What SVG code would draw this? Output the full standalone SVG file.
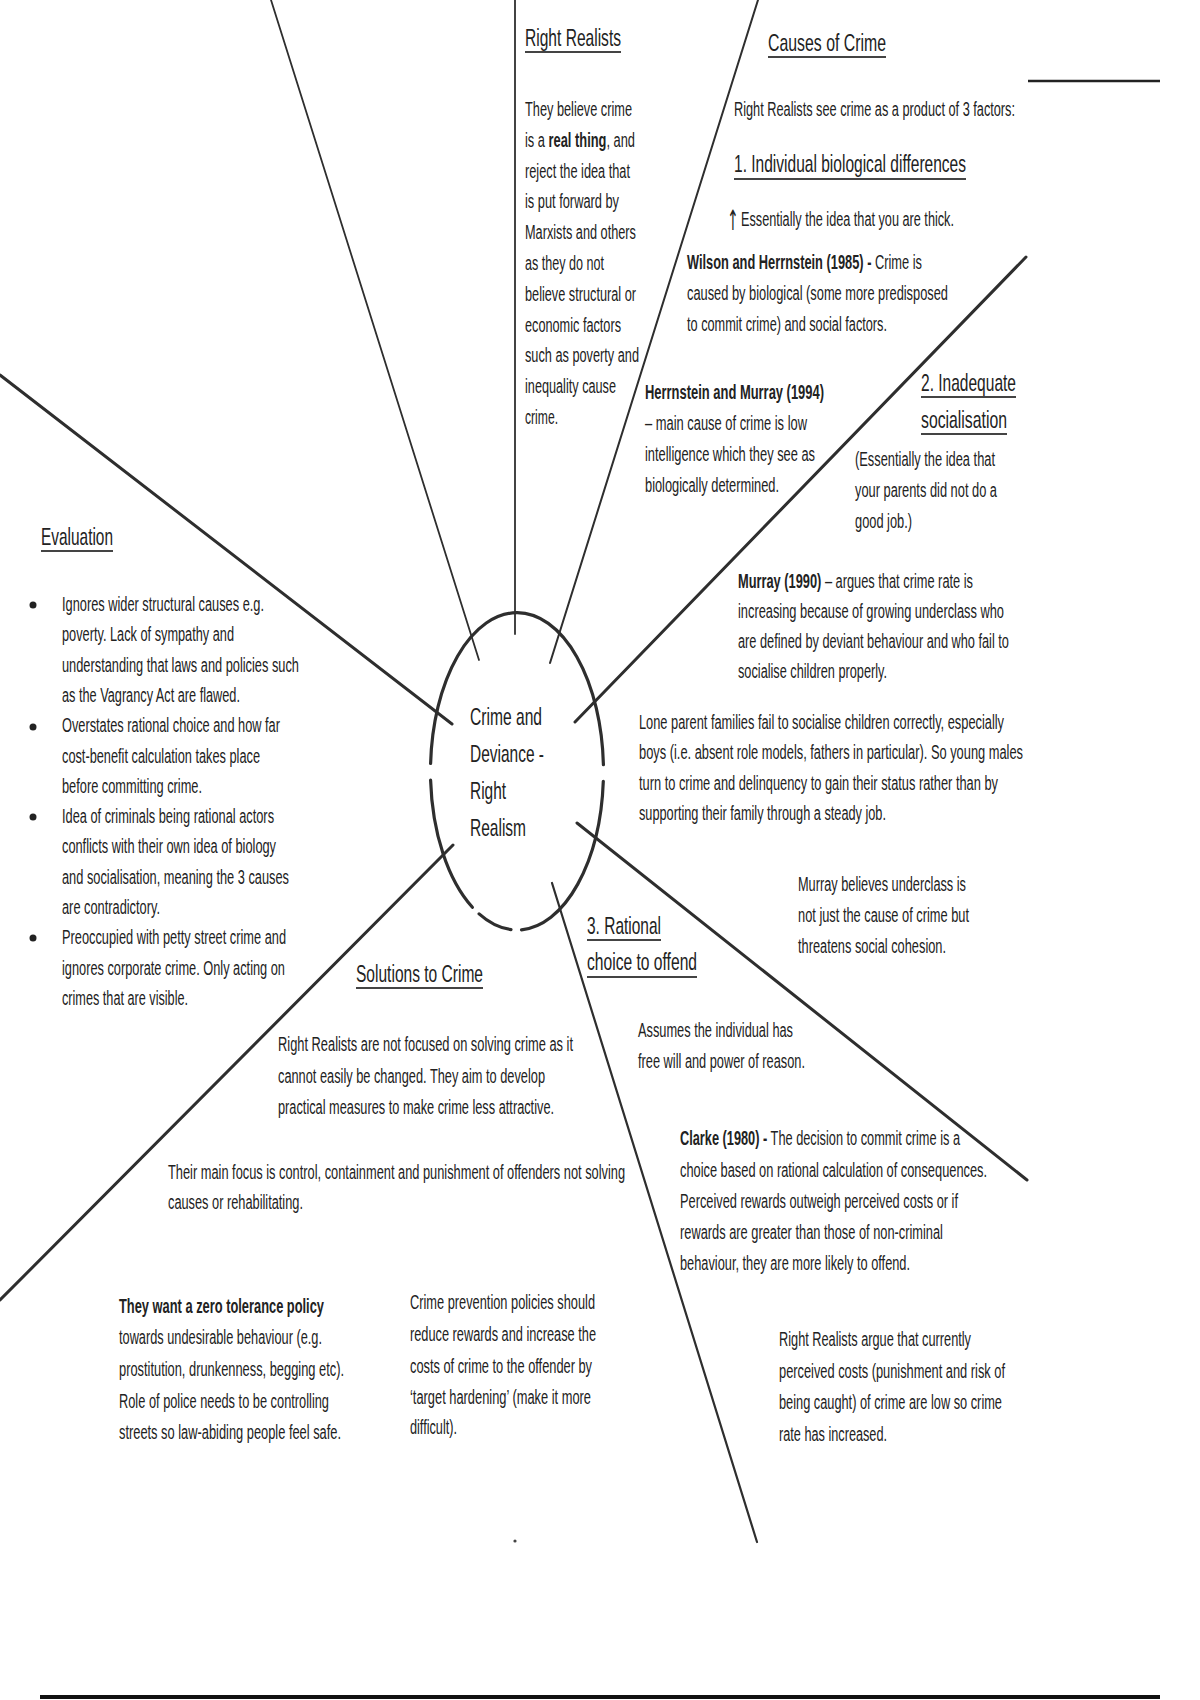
<svg xmlns="http://www.w3.org/2000/svg" width="1200" height="1700" viewBox="0 0 1200 1700">
<style>
text{font-family:"Liberation Sans",Arial,sans-serif;font-size:20px;fill:#222}
.h{font-size:24px}
.b{font-weight:bold}
.arrow{font-family:"DejaVu Sans",sans-serif;font-size:28px}
.ul{stroke:#444;stroke-width:2}
.sp{stroke:#2e2e2e;fill:none;stroke-linecap:round}
.ring{stroke:#2e2e2e;stroke-width:3.2;fill:none;stroke-linecap:round}
</style>
<rect width="1200" height="1700" fill="#fff"/>

<g id="connectors">
<line class="sp" x1="271" y1="0" x2="479" y2="660" stroke-width="1.8"/>
<line class="sp" x1="515" y1="0" x2="515" y2="634" stroke-width="1.8"/>
<line class="sp" x1="758" y1="0" x2="550" y2="663" stroke-width="2"/>
<line class="sp" x1="1026" y1="257" x2="575" y2="722" stroke-width="3"/>
<line class="sp" x1="577" y1="823" x2="1027" y2="1180" stroke-width="3"/>
<line class="sp" x1="552" y1="883" x2="757" y2="1542" stroke-width="2.2"/>
<line class="sp" x1="453" y1="845" x2="0" y2="1300" stroke-width="3"/>
<line class="sp" x1="0" y1="375" x2="452" y2="724" stroke-width="3"/>
</g>

<g id="decor">
<line x1="1028" y1="81" x2="1160" y2="81" stroke="#222" stroke-width="2.5"/>
<line x1="40" y1="1697" x2="1160" y2="1697" stroke="#111" stroke-width="4"/>
<circle cx="515" cy="1541" r="1.6" fill="#444"/>
</g>

<g id="center">
<path class="ring" d="M603.4,764.6 A86.5,159 0 0 0 430.6,763.5"/>
<path class="ring" d="M430.6,780.2 A86.5,159 0 0 0 472.4,907.3"/>
<path class="ring" d="M479.1,913.9 A86.5,159 0 0 0 511,929.6"/>
<path class="ring" d="M521.5,929.8 A86.5,159 0 0 0 603.3,781.3"/>
<text class="h" transform="matrix(.64 0 0 1 470 725)" textLength="112.5" lengthAdjust="spacingAndGlyphs">Crime and</text>
<text class="h" transform="matrix(.64 0 0 1 470 762)" textLength="115.6" lengthAdjust="spacingAndGlyphs">Deviance -</text>
<text class="h" transform="matrix(.64 0 0 1 470 799)" textLength="56.3" lengthAdjust="spacingAndGlyphs">Right</text>
<text class="h" transform="matrix(.64 0 0 1 470 836)" textLength="87.5" lengthAdjust="spacingAndGlyphs">Realism</text>
</g>

<g id="right-realists">
<text class="h" transform="matrix(.64 0 0 1 525 46)" textLength="150" lengthAdjust="spacingAndGlyphs">Right Realists</text>
<line class="ul" x1="525" y1="52" x2="621" y2="52"/>
<text transform="matrix(.64 0 0 1 525 116)" textLength="167.2" lengthAdjust="spacingAndGlyphs">They believe crime</text>
<text transform="matrix(.64 0 0 1 525 146.8)" textLength="171.9" lengthAdjust="spacingAndGlyphs">is a <tspan class="b">real thing</tspan>, and</text>
<text transform="matrix(.64 0 0 1 525 177.6)" textLength="164.1" lengthAdjust="spacingAndGlyphs">reject the idea that</text>
<text transform="matrix(.64 0 0 1 525 208.4)" textLength="146.9" lengthAdjust="spacingAndGlyphs">is put forward by</text>
<text transform="matrix(.64 0 0 1 525 239.2)" textLength="173.4" lengthAdjust="spacingAndGlyphs">Marxists and others</text>
<text transform="matrix(.64 0 0 1 525 270)" textLength="123.4" lengthAdjust="spacingAndGlyphs">as they do not</text>
<text transform="matrix(.64 0 0 1 525 300.8)" textLength="173.4" lengthAdjust="spacingAndGlyphs">believe structural or</text>
<text transform="matrix(.64 0 0 1 525 331.6)" textLength="150" lengthAdjust="spacingAndGlyphs">economic factors</text>
<text transform="matrix(.64 0 0 1 525 362.4)" textLength="178.1" lengthAdjust="spacingAndGlyphs">such as poverty and</text>
<text transform="matrix(.64 0 0 1 525 393.2)" textLength="142.2" lengthAdjust="spacingAndGlyphs">inequality cause</text>
<text transform="matrix(.64 0 0 1 525 424)" textLength="51.6" lengthAdjust="spacingAndGlyphs">crime.</text>
</g>

<g id="causes-of-crime">
<text class="h" transform="matrix(.64 0 0 1 768 51)" textLength="184.4" lengthAdjust="spacingAndGlyphs">Causes of Crime</text>
<line class="ul" x1="768" y1="57" x2="886" y2="57"/>
<text transform="matrix(.64 0 0 1 734 116)" textLength="439.1" lengthAdjust="spacingAndGlyphs">Right Realists see crime as a product of 3 factors:</text>
</g>

<g id="biological">
<text class="h" transform="matrix(.64 0 0 1 734 172)" textLength="362.5" lengthAdjust="spacingAndGlyphs">1. Individual biological differences</text>
<line class="ul" x1="734" y1="179" x2="966" y2="179"/>
<text class="arrow" transform="matrix(.5 0 0 1 727 230)">↑</text>
<text transform="matrix(.64 0 0 1 741 226)" textLength="332.8" lengthAdjust="spacingAndGlyphs">Essentially the idea that you are thick.</text>
</g>

<g id="wilson-herrnstein">
<text transform="matrix(.64 0 0 1 687 269)" textLength="367.2" lengthAdjust="spacingAndGlyphs"><tspan class="b">Wilson and Herrnstein</tspan> <tspan class="b">(1985)</tspan> <tspan class="b">-</tspan> Crime is</text>
<text transform="matrix(.64 0 0 1 687 300)" textLength="407.8" lengthAdjust="spacingAndGlyphs">caused by biological (some more predisposed</text>
<text transform="matrix(.64 0 0 1 687 331)" textLength="312.5" lengthAdjust="spacingAndGlyphs">to commit crime) and social factors.</text>
</g>

<g id="herrnstein-murray">
<text class="b" transform="matrix(.64 0 0 1 645 399)" textLength="279.7" lengthAdjust="spacingAndGlyphs">Herrnstein and Murray (1994)</text>
<text transform="matrix(.64 0 0 1 645 430)" textLength="253.1" lengthAdjust="spacingAndGlyphs">– main cause of crime is low</text>
<text transform="matrix(.64 0 0 1 645 461)" textLength="265.6" lengthAdjust="spacingAndGlyphs">intelligence which they see as</text>
<text transform="matrix(.64 0 0 1 645 492)" textLength="209.4" lengthAdjust="spacingAndGlyphs">biologically determined.</text>
</g>

<g id="socialisation">
<text class="h" transform="matrix(.64 0 0 1 921 391)" textLength="148.4" lengthAdjust="spacingAndGlyphs">2. Inadequate</text>
<line class="ul" x1="921" y1="397" x2="1016" y2="397"/>
<text class="h" transform="matrix(.64 0 0 1 921 428)" textLength="134.4" lengthAdjust="spacingAndGlyphs">socialisation</text>
<line class="ul" x1="921" y1="434" x2="1007" y2="434"/>
<text transform="matrix(.64 0 0 1 855 466)" textLength="218.8" lengthAdjust="spacingAndGlyphs">(Essentially the idea that</text>
<text transform="matrix(.64 0 0 1 855 497)" textLength="221.9" lengthAdjust="spacingAndGlyphs">your parents did not do a</text>
<text transform="matrix(.64 0 0 1 855 528)" textLength="89.1" lengthAdjust="spacingAndGlyphs">good job.)</text>
</g>

<g id="murray-1990">
<text transform="matrix(.64 0 0 1 738 588)" textLength="367.2" lengthAdjust="spacingAndGlyphs"><tspan class="b">Murray</tspan> <tspan class="b">(1990)</tspan> – argues that crime rate is</text>
<text transform="matrix(.64 0 0 1 738 618)" textLength="415.6" lengthAdjust="spacingAndGlyphs">increasing because of growing underclass who</text>
<text transform="matrix(.64 0 0 1 738 648)" textLength="423.4" lengthAdjust="spacingAndGlyphs">are defined by deviant behaviour and who fail to</text>
<text transform="matrix(.64 0 0 1 738 678)" textLength="232.8" lengthAdjust="spacingAndGlyphs">socialise children properly.</text>
</g>

<g id="lone-parent">
<text transform="matrix(.64 0 0 1 639 729)" textLength="570.3" lengthAdjust="spacingAndGlyphs">Lone parent families fail to socialise children correctly, especially</text>
<text transform="matrix(.64 0 0 1 639 759)" textLength="600" lengthAdjust="spacingAndGlyphs">boys (i.e. absent role models, fathers in particular). So young males</text>
<text transform="matrix(.64 0 0 1 639 790)" textLength="560.9" lengthAdjust="spacingAndGlyphs">turn to crime and delinquency to gain their status rather than by</text>
<text transform="matrix(.64 0 0 1 639 820)" textLength="385.9" lengthAdjust="spacingAndGlyphs">supporting their family through a steady job.</text>
</g>

<g id="murray-underclass">
<text transform="matrix(.64 0 0 1 798 891)" textLength="262.5" lengthAdjust="spacingAndGlyphs">Murray believes underclass is</text>
<text transform="matrix(.64 0 0 1 798 922)" textLength="267.2" lengthAdjust="spacingAndGlyphs">not just the cause of crime but</text>
<text transform="matrix(.64 0 0 1 798 953)" textLength="231.3" lengthAdjust="spacingAndGlyphs">threatens social cohesion.</text>
</g>

<g id="rational-choice">
<text class="h" transform="matrix(.64 0 0 1 587 934)" textLength="115.6" lengthAdjust="spacingAndGlyphs">3. Rational</text>
<line class="ul" x1="587" y1="940" x2="661" y2="940"/>
<text class="h" transform="matrix(.64 0 0 1 587 970)" textLength="171.9" lengthAdjust="spacingAndGlyphs">choice to offend</text>
<line class="ul" x1="587" y1="977" x2="697" y2="977"/>
<text transform="matrix(.64 0 0 1 638 1037)" textLength="242.2" lengthAdjust="spacingAndGlyphs">Assumes the individual has</text>
<text transform="matrix(.64 0 0 1 638 1068)" textLength="260.9" lengthAdjust="spacingAndGlyphs">free will and power of reason.</text>
</g>

<g id="clarke">
<text transform="matrix(.64 0 0 1 680 1145)" textLength="437.5" lengthAdjust="spacingAndGlyphs"><tspan class="b">Clarke</tspan> <tspan class="b">(1980)</tspan> <tspan class="b">-</tspan> The decision to commit crime is a</text>
<text transform="matrix(.64 0 0 1 680 1177)" textLength="479.7" lengthAdjust="spacingAndGlyphs">choice based on rational calculation of consequences.</text>
<text transform="matrix(.64 0 0 1 680 1208)" textLength="434.4" lengthAdjust="spacingAndGlyphs">Perceived rewards outweigh perceived costs or if</text>
<text transform="matrix(.64 0 0 1 680 1239)" textLength="410.9" lengthAdjust="spacingAndGlyphs">rewards are greater than those of non-criminal</text>
<text transform="matrix(.64 0 0 1 680 1270)" textLength="359.4" lengthAdjust="spacingAndGlyphs">behaviour, they are more likely to offend.</text>
</g>

<g id="perceived-costs">
<text transform="matrix(.64 0 0 1 779 1346)" textLength="300" lengthAdjust="spacingAndGlyphs">Right Realists argue that currently</text>
<text transform="matrix(.64 0 0 1 779 1378)" textLength="353.1" lengthAdjust="spacingAndGlyphs">perceived costs (punishment and risk of</text>
<text transform="matrix(.64 0 0 1 779 1409)" textLength="348.4" lengthAdjust="spacingAndGlyphs">being caught) of crime are low so crime</text>
<text transform="matrix(.64 0 0 1 779 1441)" textLength="168.8" lengthAdjust="spacingAndGlyphs">rate has increased.</text>
</g>

<g id="evaluation">
<text class="h" transform="matrix(.64 0 0 1 41 545)" textLength="112.5" lengthAdjust="spacingAndGlyphs">Evaluation</text>
<line class="ul" x1="41" y1="551" x2="113" y2="551"/>
<circle cx="33" cy="605" r="3.5" fill="#222"/>
<circle cx="33" cy="727" r="3.5" fill="#222"/>
<circle cx="33" cy="817" r="3.5" fill="#222"/>
<circle cx="33" cy="938" r="3.5" fill="#222"/>
<text transform="matrix(.64 0 0 1 62 611)" textLength="315.6" lengthAdjust="spacingAndGlyphs">Ignores wider structural causes e.g.</text>
<text transform="matrix(.64 0 0 1 62 641.3)" textLength="268.8" lengthAdjust="spacingAndGlyphs">poverty. Lack of sympathy and</text>
<text transform="matrix(.64 0 0 1 62 671.6)" textLength="370.3" lengthAdjust="spacingAndGlyphs">understanding that laws and policies such</text>
<text transform="matrix(.64 0 0 1 62 701.9)" textLength="278.1" lengthAdjust="spacingAndGlyphs">as the Vagrancy Act are flawed.</text>
<text transform="matrix(.64 0 0 1 62 732.2)" textLength="340.6" lengthAdjust="spacingAndGlyphs">Overstates rational choice and how far</text>
<text transform="matrix(.64 0 0 1 62 762.5)" textLength="309.4" lengthAdjust="spacingAndGlyphs">cost-benefit calculation takes place</text>
<text transform="matrix(.64 0 0 1 62 792.8)" textLength="218.8" lengthAdjust="spacingAndGlyphs">before committing crime.</text>
<text transform="matrix(.64 0 0 1 62 823.1)" textLength="331.3" lengthAdjust="spacingAndGlyphs">Idea of criminals being rational actors</text>
<text transform="matrix(.64 0 0 1 62 853.4)" textLength="334.4" lengthAdjust="spacingAndGlyphs">conflicts with their own idea of biology</text>
<text transform="matrix(.64 0 0 1 62 883.7)" textLength="354.7" lengthAdjust="spacingAndGlyphs">and socialisation, meaning the 3 causes</text>
<text transform="matrix(.64 0 0 1 62 914)" textLength="153.1" lengthAdjust="spacingAndGlyphs">are contradictory.</text>
<text transform="matrix(.64 0 0 1 62 944.3)" textLength="350" lengthAdjust="spacingAndGlyphs">Preoccupied with petty street crime and</text>
<text transform="matrix(.64 0 0 1 62 974.6)" textLength="348.4" lengthAdjust="spacingAndGlyphs">ignores corporate crime. Only acting on</text>
<text transform="matrix(.64 0 0 1 62 1004.9)" textLength="196.9" lengthAdjust="spacingAndGlyphs">crimes that are visible.</text>
</g>

<g id="solutions">
<text class="h" transform="matrix(.64 0 0 1 356 982)" textLength="198.4" lengthAdjust="spacingAndGlyphs">Solutions to Crime</text>
<line class="ul" x1="356" y1="988" x2="483" y2="988"/>
<text transform="matrix(.64 0 0 1 278 1051)" textLength="460.9" lengthAdjust="spacingAndGlyphs">Right Realists are not focused on solving crime as it</text>
<text transform="matrix(.64 0 0 1 278 1083)" textLength="417.2" lengthAdjust="spacingAndGlyphs">cannot easily be changed. They aim to develop</text>
<text transform="matrix(.64 0 0 1 278 1114)" textLength="431.3" lengthAdjust="spacingAndGlyphs">practical measures to make crime less attractive.</text>
</g>

<g id="main-focus">
<text transform="matrix(.64 0 0 1 168 1179)" textLength="714.1" lengthAdjust="spacingAndGlyphs">Their main focus is control, containment and punishment of offenders not solving</text>
<text transform="matrix(.64 0 0 1 168 1209)" textLength="210.9" lengthAdjust="spacingAndGlyphs">causes or rehabilitating.</text>
</g>

<g id="zero-tolerance">
<text class="b" transform="matrix(.64 0 0 1 119 1313)" textLength="320.3" lengthAdjust="spacingAndGlyphs">They want a zero tolerance policy</text>
<text transform="matrix(.64 0 0 1 119 1344)" textLength="317.2" lengthAdjust="spacingAndGlyphs">towards undesirable behaviour (e.g.</text>
<text transform="matrix(.64 0 0 1 119 1376)" textLength="351.6" lengthAdjust="spacingAndGlyphs">prostitution, drunkenness, begging etc).</text>
<text transform="matrix(.64 0 0 1 119 1408)" textLength="328.1" lengthAdjust="spacingAndGlyphs">Role of police needs to be controlling</text>
<text transform="matrix(.64 0 0 1 119 1439)" textLength="346.9" lengthAdjust="spacingAndGlyphs">streets so law-abiding people feel safe.</text>
</g>

<g id="crime-prevention">
<text transform="matrix(.64 0 0 1 410 1309)" textLength="289.1" lengthAdjust="spacingAndGlyphs">Crime prevention policies should</text>
<text transform="matrix(.64 0 0 1 410 1341)" textLength="290.6" lengthAdjust="spacingAndGlyphs">reduce rewards and increase the</text>
<text transform="matrix(.64 0 0 1 410 1373)" textLength="284.4" lengthAdjust="spacingAndGlyphs">costs of crime to the offender by</text>
<text transform="matrix(.64 0 0 1 410 1404)" textLength="282.8" lengthAdjust="spacingAndGlyphs">‘target hardening’ (make it more</text>
<text transform="matrix(.64 0 0 1 410 1434)" textLength="73.4" lengthAdjust="spacingAndGlyphs">difficult).</text>
</g>
</svg>
